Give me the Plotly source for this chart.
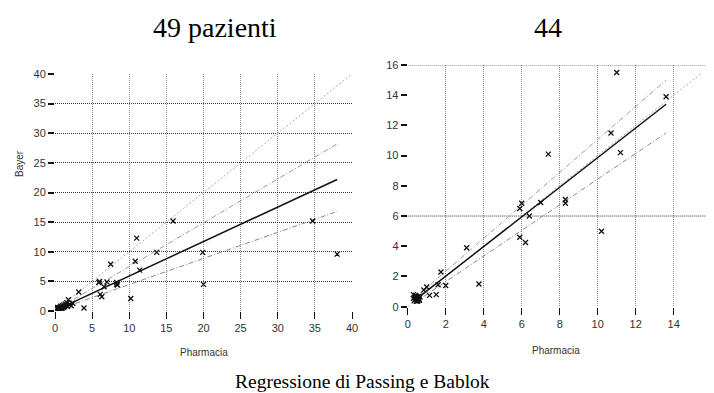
import plotly.graph_objects as go

# ---- Left panel (49 pazienti) ----
left_x = [15.9, 11.0, 13.7, 10.8, 7.5, 11.4, 19.9, 20.0, 34.7, 38.0, 6.0, 5.9, 7.0, 6.6, 8.3, 8.4, 8.3,
          6.1, 6.3, 10.2, 3.2, 3.9, 1.8,
          0.3, 0.4, 0.5, 0.5, 0.6, 0.7, 0.8, 0.9, 1.0, 1.1, 1.2, 1.3, 1.4, 1.5, 1.6, 1.7, 2.0, 2.2, 2.4,
          0.2, 0.35, 0.45, 0.55, 0.65, 0.75, 1.0]
left_y = [15.2, 12.3, 9.9, 8.4, 7.9, 6.9, 9.9, 4.5, 15.2, 9.6, 5.0, 4.8, 4.9, 4.1, 4.8, 4.4, 4.5,
          2.8, 2.4, 2.1, 3.2, 0.5, 1.9,
          0.4, 0.3, 0.5, 0.2, 0.6, 0.4, 0.8, 0.5, 0.9, 0.6, 1.0, 0.7, 1.2, 0.9, 1.4, 0.8, 1.1, 0.9, 1.3,
          0.1, 0.6, 0.45, 0.3, 0.2, 0.65, 0.3]
left_fit_x = [0.2, 38.0]
left_fit_y = [0.2, 22.2]
left_up_y = [0.25, 28.2]
left_lo_y = [0.15, 16.8]
left_id = [0, 40]

# ---- Right panel (44) ----
right_x = [11.0, 13.6, 10.7, 11.2, 7.4, 8.3, 8.3, 7.0, 6.0, 5.9, 6.4, 5.9, 6.2, 10.2, 3.1, 3.75, 1.75, 2.0,
           1.6, 1.5, 1.15, 1.0, 0.85,
           0.3, 0.35, 0.4, 0.45, 0.5, 0.55, 0.6, 0.35, 0.4, 0.45, 0.5, 0.55, 0.6, 0.3, 0.38, 0.42, 0.48,
           0.52, 0.58, 0.62, 0.65]
right_y = [15.5, 13.9, 11.5, 10.2, 10.1, 7.1, 6.85, 6.9, 6.85, 6.5, 6.0, 4.6, 4.25, 5.0, 3.9, 1.5, 2.3, 1.4,
           1.45, 0.8, 0.75, 1.3, 1.1,
           0.8, 0.6, 0.5, 0.7, 0.4, 0.6, 0.5, 0.4, 0.75, 0.35, 0.65, 0.45, 0.7, 0.55, 0.45, 0.62, 0.52,
           0.38, 0.58, 0.42, 0.65]
right_fit_x = [0.4, 13.6]
right_fit_y = [0.45, 13.4]
right_up_y = [0.6, 15.0]
right_lo_y = [0.3, 11.5]
right_id = [0, 15.5]

left_range = [0, 40]
left_step = 5
left_minor = 1
right_range = [0, 16]
right_step = 2
right_minor = 0.5
right_hgrid = [6, 16]

fig = go.Figure()
W, H = 714, 393
OFF = 8  # page body margin offset


def px(p):
    return (p - OFF) / W


def py(p):
    return 1 - (p - OFF) / H


def add_panel(xs, ys, fx, fy, fu, fl, idl, xa, ya):
    fig.add_trace(go.Scatter(x=idl, y=idl, mode="lines", xaxis=xa, yaxis=ya,
                             line=dict(color="#aaaaaa", width=1, dash="2px,2px"), showlegend=False))
    fig.add_trace(go.Scatter(x=fx, y=fu, mode="lines", xaxis=xa, yaxis=ya,
                             line=dict(color="#999999", width=1, dash="5px,2px,1px,2px"), showlegend=False))
    fig.add_trace(go.Scatter(x=fx, y=fl, mode="lines", xaxis=xa, yaxis=ya,
                             line=dict(color="#888888", width=1, dash="5px,2px,1px,2px"), showlegend=False))
    fig.add_trace(go.Scatter(x=fx, y=fy, mode="lines", xaxis=xa, yaxis=ya,
                             line=dict(color="#111111", width=1.5), showlegend=False))
    fig.add_trace(go.Scatter(x=xs, y=ys, mode="markers", xaxis=xa, yaxis=ya,
                             marker=dict(symbol="x-thin", size=5, line=dict(color="#111111", width=1.3)),
                             showlegend=False))


add_panel(left_x, left_y, left_fit_x, left_fit_y, left_up_y, left_lo_y, left_id, "x", "y")
add_panel(right_x, right_y, right_fit_x, right_fit_y, right_up_y, right_lo_y, right_id, "x2", "y2")

tickfont = dict(family="Liberation Sans Narrow, Liberation Sans, Arial", size=11, color="#333333")


def xax(domain, rng, step, anchor):
    return dict(domain=domain, range=rng, tickmode="linear", tick0=0, dtick=step, anchor=anchor,
                automargin=False,
                showgrid=True, gridcolor="#8a8a8a", griddash="1px,1px", gridwidth=1,
                zeroline=False, showline=False, ticks="outside", ticklen=7, tickcolor="#111",
                tickwidth=1.2, tickfont=tickfont)


def yax(domain, rng, step, anchor, grid):
    return dict(domain=domain, range=rng, tickmode="linear", tick0=0, dtick=step, anchor=anchor,
                automargin=False,
                showgrid=grid, gridcolor="#333333", griddash="1px,1px", gridwidth=1,
                zeroline=False, showline=False, ticks="outside", ticklen=6, tickcolor="#111",
                tickwidth=1.8, tickfont=tickfont)


def minor_ax(base, rng, mdt, anchor, side, width):
    return dict(overlaying=base, anchor=anchor, side=side, range=rng, tickmode="linear", tick0=0,
                dtick=mdt, automargin=False, showgrid=False, zeroline=False, showline=False,
                showticklabels=False, ticks="outside", ticklen=4, tickcolor="#111", tickwidth=width)


fig.update_layout(
    width=W, height=H, margin=dict(l=0, r=0, t=0, b=0, autoexpand=False),
    paper_bgcolor="white", plot_bgcolor="white",
    xaxis=xax([px(55), px(352)], left_range, left_step, "y"),
    yaxis=yax([py(311), py(74)], left_range, left_step, "x", True),
    xaxis2=xax([px(407.7), px(711.7)], right_range, right_step, "y2"),
    yaxis2=yax([py(306.7), py(65)], right_range, right_step, "x2", False),
    xaxis3=minor_ax("x", left_range, left_minor, "y", "bottom", 1.2),
    yaxis3=minor_ax("y", left_range, left_minor, "x", "left", 1.8),
    xaxis4=minor_ax("x2", right_range, right_minor, "y2", "bottom", 1.2),
    yaxis4=minor_ax("y2", right_range, right_minor, "x2", "left", 1.8),
)

for v in right_hgrid:
    fig.add_shape(type="line", xref="x2 domain", x0=0, x1=1, yref="y2", y0=v, y1=v,
                  line=dict(color="#333333", width=1, dash="1px,1px"), layer="below")

serif = "Liberation Serif, Times New Roman, serif"
sans = "Liberation Sans Narrow, Liberation Sans, Arial"
ann = [
    dict(text="49 pazienti", x=215, y=27, size=28, fam=serif, ang=0),
    dict(text="44", x=548, y=27, size=28, fam=serif, ang=0),
    dict(text="Regressione di Passing e Bablok", x=362, y=381, size=19.5, fam=serif, ang=0),
    dict(text="Pharmacia", x=204, y=352, size=10, fam=sans, ang=0),
    dict(text="Pharmacia", x=556, y=350, size=10, fam=sans, ang=0),
    dict(text="Bayer", x=19, y=164, size=10, fam=sans, ang=-90),
]
for a in ann:
    fig.add_annotation(text=a["text"], x=px(a["x"]), y=py(a["y"]), xref="paper", yref="paper",
                       showarrow=False, xanchor="center", yanchor="middle", textangle=a["ang"],
                       font=dict(family=a["fam"], size=a["size"],
                                 color="#000000" if a["fam"] == serif else "#333333"))

fig.write_html("out.html")
